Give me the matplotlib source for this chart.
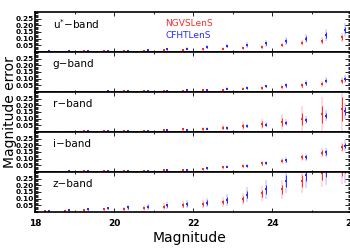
import numpy as np
import matplotlib.pyplot as plt
from matplotlib.ticker import MultipleLocator

mag = np.arange(18.25, 26.0, 0.5)
bands = ["u$^{*}$\u2212band", "g\u2212band", "r\u2212band", "i\u2212band", "z\u2212band"]

# NGVSLenS (red) values and error bar half-lengths, per band
ngvs_val = [
    [0.003, 0.003, 0.004, 0.005, 0.007, 0.009, 0.012, 0.015, 0.020, 0.025, 0.032, 0.040, 0.053, 0.070, 0.085, 0.110],
    [0.002, 0.002, 0.003, 0.003, 0.004, 0.005, 0.007, 0.010, 0.013, 0.017, 0.025, 0.030, 0.037, 0.050, 0.062, 0.085],
    [0.003, 0.003, 0.004, 0.005, 0.007, 0.010, 0.014, 0.020, 0.025, 0.032, 0.045, 0.060, 0.075, 0.098, 0.133, 0.172],
    [0.003, 0.003, 0.004, 0.005, 0.006, 0.008, 0.012, 0.015, 0.022, 0.035, 0.045, 0.065, 0.085, 0.110, 0.145, 0.188],
    [0.005, 0.007, 0.015, 0.020, 0.022, 0.030, 0.040, 0.055, 0.060, 0.075, 0.095, 0.140, 0.170, 0.230, 0.290, 0.330],
]
ngvs_err = [
    [0.001, 0.001, 0.001, 0.001, 0.002, 0.002, 0.002, 0.003, 0.004, 0.005, 0.006, 0.007, 0.009, 0.011, 0.014, 0.018],
    [0.001, 0.001, 0.001, 0.001, 0.001, 0.002, 0.002, 0.002, 0.003, 0.004, 0.005, 0.006, 0.007, 0.009, 0.011, 0.014],
    [0.001, 0.001, 0.001, 0.002, 0.002, 0.003, 0.004, 0.006, 0.008, 0.010, 0.014, 0.020, 0.030, 0.048, 0.065, 0.090],
    [0.001, 0.001, 0.001, 0.001, 0.002, 0.002, 0.003, 0.004, 0.005, 0.006, 0.007, 0.009, 0.011, 0.014, 0.017, 0.020],
    [0.002, 0.003, 0.004, 0.006, 0.008, 0.010, 0.012, 0.014, 0.016, 0.018, 0.022, 0.028, 0.035, 0.045, 0.050, 0.060],
]
# CFHTLenS (blue)
cfht_val = [
    [0.004, 0.005, 0.006, 0.007, 0.009, 0.012, 0.020, 0.025, 0.035, 0.043, 0.053, 0.065, 0.085, 0.100, 0.130, 0.165],
    [0.002, 0.003, 0.003, 0.004, 0.005, 0.007, 0.010, 0.013, 0.017, 0.025, 0.032, 0.042, 0.050, 0.065, 0.085, 0.100],
    [0.003, 0.003, 0.004, 0.005, 0.006, 0.009, 0.013, 0.018, 0.025, 0.030, 0.043, 0.055, 0.070, 0.093, 0.122, 0.160],
    [0.003, 0.004, 0.004, 0.005, 0.007, 0.009, 0.013, 0.018, 0.027, 0.040, 0.048, 0.068, 0.088, 0.112, 0.147, 0.198],
    [0.007, 0.012, 0.020, 0.027, 0.035, 0.040, 0.050, 0.060, 0.070, 0.090, 0.130, 0.170, 0.230, 0.280, 0.320, 0.360],
]
cfht_err = [
    [0.001, 0.001, 0.001, 0.002, 0.002, 0.003, 0.004, 0.005, 0.007, 0.008, 0.010, 0.012, 0.015, 0.018, 0.022, 0.025],
    [0.001, 0.001, 0.001, 0.001, 0.002, 0.002, 0.003, 0.003, 0.004, 0.005, 0.006, 0.007, 0.009, 0.011, 0.013, 0.015],
    [0.001, 0.001, 0.001, 0.001, 0.002, 0.002, 0.003, 0.004, 0.005, 0.006, 0.008, 0.010, 0.012, 0.015, 0.020, 0.030],
    [0.001, 0.001, 0.001, 0.001, 0.002, 0.002, 0.003, 0.004, 0.005, 0.006, 0.007, 0.009, 0.011, 0.013, 0.016, 0.020],
    [0.002, 0.003, 0.005, 0.007, 0.009, 0.011, 0.013, 0.015, 0.018, 0.022, 0.028, 0.035, 0.045, 0.050, 0.060, 0.070],
]

red = "#ff2a2a"
blue = "#2a2aff"

fig = plt.figure(figsize=(3.5, 2.5), dpi=100)
axes = []
n = len(bands)
left, right, bot, top = 0.10, 1.004, 0.152, 0.952
h = (top - bot) / n
for k in range(n):
    ax = fig.add_axes([left, top - (k + 1) * h, right - left, h])
    axes.append(ax)
    for val, err, col, dx in [(ngvs_val[k], ngvs_err[k], red, 0.0), (cfht_val[k], cfht_err[k], blue, 0.1)]:
        val = np.array(val)
        err = np.array(err)
        x = mag + dx
        ax.errorbar(x, val, yerr=2.0 * err, fmt="none", ecolor=col, alpha=0.2, elinewidth=1.2)
        ax.errorbar(x, val, yerr=err, fmt="s", color=col, ecolor=col, ms=1.6, mew=0, elinewidth=0.7)
    ax.set_xlim(18, 26)
    ax.set_ylim(0, 0.3)
    ax.set_yticks([0.05, 0.10, 0.15, 0.20, 0.25])
    ax.yaxis.set_minor_locator(MultipleLocator(0.01))
    ax.xaxis.set_major_locator(MultipleLocator(2))
    ax.xaxis.set_minor_locator(MultipleLocator(1))
    ax.tick_params(axis="both", which="both", direction="in", top=True, right=True, width=0.6)
    ax.tick_params(axis="y", which="major", length=4, labelsize=5.3, pad=1)
    ax.tick_params(axis="y", which="minor", length=2)
    ax.tick_params(axis="x", which="major", length=3, labelsize=6.5, pad=5)
    ax.tick_params(axis="x", which="minor", length=1.5)
    for lab in ax.get_yticklabels():
        lab.set_fontweight("bold")
    for s in ax.spines.values():
        s.set_linewidth(1.2)
    ax.text(18.45, 0.21, bands[k], fontsize=7.5, va="center")
    if k < n - 1:
        ax.tick_params(labelbottom=False)
    else:
        for lab in ax.get_xticklabels():
            lab.set_fontweight("bold")

axes[0].text(21.3, 0.21, "NGVSLenS", color=red, fontsize=6.5, va="center")
axes[0].text(21.3, 0.12, "CFHTLenS", color=blue, fontsize=6.5, va="center")

fig.text(0.54, 0.048, "Magnitude", fontsize=10, ha="center", va="center")
fig.text(0.028, 0.55, "Magnitude error", fontsize=10, rotation=90, ha="center", va="center")

fig.savefig("out.png", dpi=100)
